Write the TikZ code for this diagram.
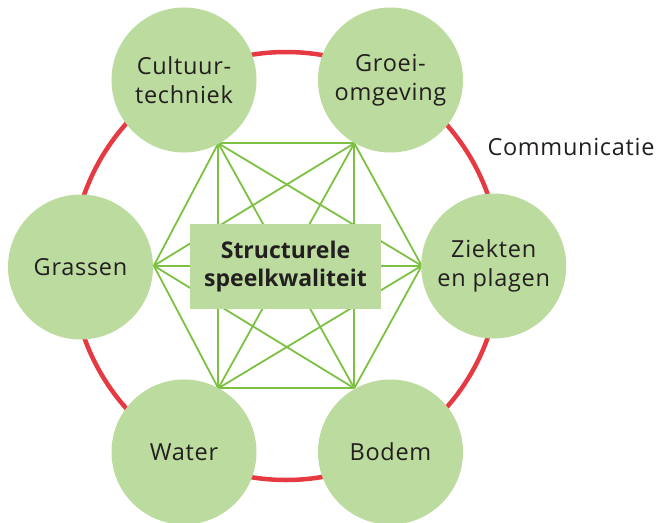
\documentclass[tikz,border=0pt]{standalone}
\usepackage{fontspec}
\setmainfont{Open Sans}
\newfontfamily\spaced[LetterSpace=3]{Open Sans}
\definecolor{leaf}{HTML}{BCDB9E}
\definecolor{linegreen}{HTML}{7DC142}
\definecolor{commred}{HTML}{E63A43}
\definecolor{ink}{HTML}{231F20}
\begin{document}
\begin{tikzpicture}[x=1pt,y=-1pt,
  bubble/.style={circle, fill=leaf, minimum size=145pt, inner sep=0pt, align=center, text=ink, font=\spaced\fontsize{23.5}{29}\selectfont},
  link/.style={draw=linegreen, line width=1.8pt},
  ringstyle/.style={circle, draw=commred, line width=4.5pt, minimum size=428pt, inner sep=0pt},
  corestyle/.style={fill=leaf, minimum width=191pt, minimum height=84.5pt, inner sep=0pt, align=center, text=ink, font=\bfseries\fontsize{23}{28}\selectfont},
  labelstyle/.style={text=ink, inner sep=0pt, font=\spaced\fontsize{23.5}{29}\selectfont}]
\useasboundingbox (0,0) rectangle (669,522);
\node[ringstyle] (commring) at (286,266) {};
\coordinate (vL) at (153.8,265.7);
\coordinate (vTL) at (218.3,143.3);
\coordinate (vTR) at (354.3,143.3);
\coordinate (vR) at (421.7,265.7);
\coordinate (vBR) at (354.3,388.3);
\coordinate (vBL) at (218.3,388.3);
\foreach \a/\b in {vL/vTL, vL/vTR, vL/vR, vL/vBR, vL/vBL, vTL/vTR, vTL/vR, vTL/vBR, vTL/vBL, vTR/vR, vTR/vBR, vTR/vBL, vR/vBR, vR/vBL, vBR/vBL}
  \draw[link] (\a) -- (\b);
\node[corestyle] (core) at (285.5,266.3) {Structurele\\speelkwaliteit};
\node[bubble] (cult) at (184,80) {Cultuur-\\techniek};
\node[bubble] (groei) at (390.5,80) {Groei-\\omgeving};
\node[bubble] (gras) at (80.5,267) {Grassen};
\node[bubble] (ziek) at (493.7,266) {Ziekten\\en plagen};
\node[bubble] (water) at (184,452) {Water};
\node[bubble] (bodem) at (390.5,452) {Bodem};
\node[labelstyle, anchor=base] (comm) at (571,155) {Communicatie};
\end{tikzpicture}
\end{document}
